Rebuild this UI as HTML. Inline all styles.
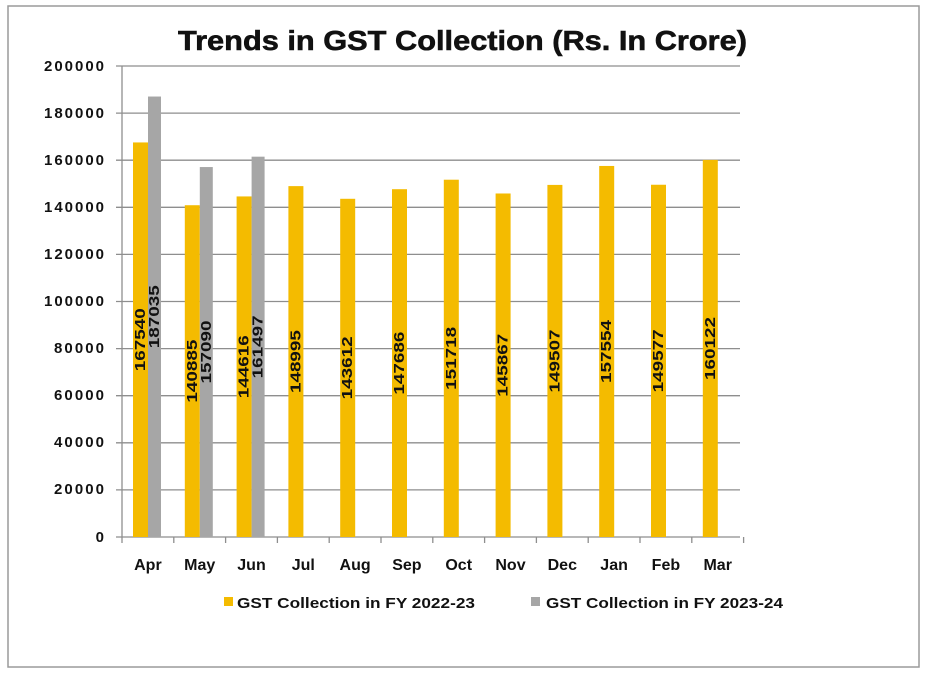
<!DOCTYPE html>
<html><head><meta charset="utf-8"><style>
html,body{margin:0;padding:0;background:#fff;}
svg{display:block;font-family:"Liberation Sans",sans-serif;font-weight:bold;}
</style></head><body>
<svg width="938" height="675" viewBox="0 0 938 675" xmlns="http://www.w3.org/2000/svg">
<rect x="8" y="6" width="911" height="661" fill="#fff" stroke="#9a9a9a" stroke-width="1.5"/>
<text x="178" y="50" font-size="28" textLength="569" lengthAdjust="spacingAndGlyphs" fill="#111" stroke="#111" stroke-width="0.6">Trends in GST Collection (Rs. In Crore)</text>
<g stroke="#8e8e8e" stroke-width="1.3">
<line x1="116" y1="66" x2="740" y2="66"/><line x1="116" y1="113.1" x2="740" y2="113.1"/>
<line x1="116" y1="160.2" x2="740" y2="160.2"/><line x1="116" y1="207.3" x2="740" y2="207.3"/>
<line x1="116" y1="254.4" x2="740" y2="254.4"/><line x1="116" y1="301.5" x2="740" y2="301.5"/>
<line x1="116" y1="348.6" x2="740" y2="348.6"/><line x1="116" y1="395.7" x2="740" y2="395.7"/>
<line x1="116" y1="442.8" x2="740" y2="442.8"/><line x1="116" y1="489.9" x2="740" y2="489.9"/>
<line x1="116" y1="537" x2="740" y2="537"/>
<line x1="122" y1="66" x2="122" y2="537"/>
</g>
<g stroke="#8e8e8e" stroke-width="1.3" id="ticks"></g>
<g font-size="15" text-anchor="end" fill="#111" lengthAdjust="spacingAndGlyphs">
<text x="104" y="71" textLength="60">200000</text><text x="104" y="118" textLength="60">180000</text><text x="104" y="165" textLength="60">160000</text>
<text x="104" y="212" textLength="60">140000</text><text x="104" y="259" textLength="60">120000</text><text x="104" y="306" textLength="60">100000</text>
<text x="104" y="353" textLength="50">80000</text><text x="104" y="400" textLength="50">60000</text><text x="104" y="447" textLength="50">40000</text>
<text x="104" y="494" textLength="50">20000</text><text x="104" y="542">0</text>
</g>
<g id="bars"></g>
<rect x="224" y="597" width="9" height="9" fill="#f4bb00"/>
<text x="237" y="608" font-size="15" fill="#111" textLength="238" lengthAdjust="spacingAndGlyphs">GST Collection in FY 2022-23</text>
<rect x="531" y="597" width="9" height="9" fill="#a6a6a6"/>
<text x="546" y="608" font-size="15" fill="#111" textLength="237" lengthAdjust="spacingAndGlyphs">GST Collection in FY 2023-24</text>
<script>
(function(){
var ns="http://www.w3.org/2000/svg";
var m=["Apr","May","Jun","Jul","Aug","Sep","Oct","Nov","Dec","Jan","Feb","Mar"];
var a=[167540,140885,144616,148995,143612,147686,151718,145867,149507,157554,149577,160122];
var b=[187035,157090,161497];
var g=document.getElementById("bars"),t=document.getElementById("ticks");
function el(n,at,p,txt){var e=document.createElementNS(ns,n);for(var k in at)e.setAttribute(k,at[k]);if(txt)e.textContent=txt;p.appendChild(e);return e;}
function Y(v){return 537-v*471/200000;}
for(var i=0;i<=12;i++){var x=122+51.8*i;el("line",{x1:x,y1:537,x2:x,y2:543},t);}
for(var i=0;i<12;i++){
 var s=122+51.8*i,y=Y(a[i]);
 el("rect",{x:s+11,y:y,width:15,height:537-y,fill:"#f4bb00"},g);
 if(i<3){var y2=Y(b[i]);el("rect",{x:s+26,y:y2,width:13,height:537-y2,fill:"#a6a6a6"},g);}
 el("text",{x:s+25.9,y:570,"font-size":16,"text-anchor":"middle",fill:"#111"},g,m[i]);
}
for(var i=0;i<12;i++){
 var s=122+51.8*i,cx=s+18.5,cy=(Y(a[i])+537)/2;
 el("text",{x:0,y:0,"font-size":15,"text-anchor":"middle","dominant-baseline":"central",textLength:63,lengthAdjust:"spacingAndGlyphs",fill:"#111",transform:"translate("+cx+","+cy+") rotate(-90)"},g,String(a[i]));
 if(i<3){var cx2=s+32.5,cy2=(Y(b[i])+537)/2;
 el("text",{x:0,y:0,"font-size":15,"text-anchor":"middle","dominant-baseline":"central",textLength:63,lengthAdjust:"spacingAndGlyphs",fill:"#111",transform:"translate("+cx2+","+cy2+") rotate(-90)"},g,String(b[i]));}
}
})();
</script>
</svg>
</body></html>
